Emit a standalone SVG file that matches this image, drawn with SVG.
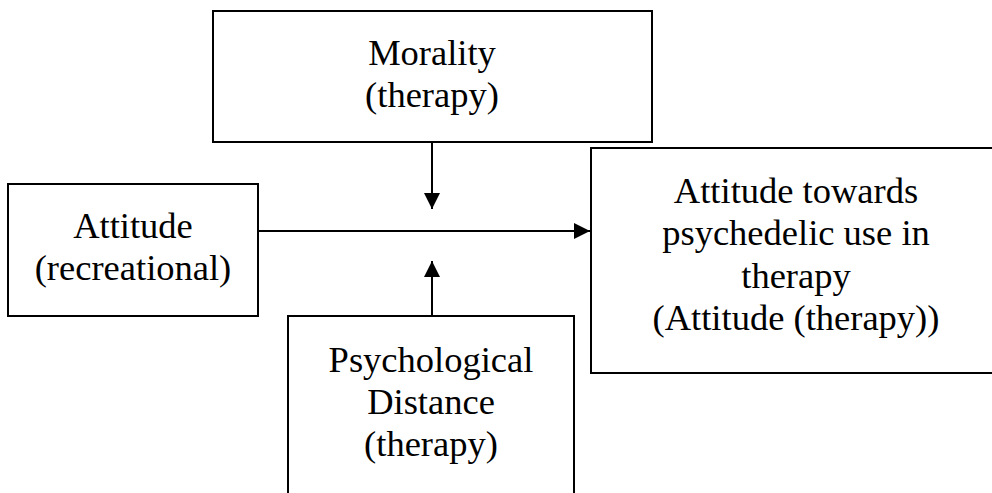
<svg xmlns="http://www.w3.org/2000/svg" width="992" height="493" viewBox="0 0 992 493">
<style>
.box{fill:#fff;stroke:#000;stroke-width:2}
.lbl{font-family:"Liberation Serif","Times New Roman",serif;font-size:36.5px;fill:#000;text-anchor:middle}
.con{stroke:#000;stroke-width:2;fill:none}
</style>
<defs>
<marker id="ah" markerUnits="userSpaceOnUse" markerWidth="16" markerHeight="16" viewBox="0 0 16 16" refX="16" refY="8" orient="auto">
<path d="M0,0 L16,8 L0,16 Z" fill="#000"/>
</marker>
</defs>
<rect width="992" height="493" fill="#fff"/>
<g id="morality">
<rect class="box" x="213" y="11" width="439" height="131"/>
<text class="lbl" x="432" y="65">Morality</text>
<text class="lbl" x="432" y="107">(therapy)</text>
</g>
<g id="attitude-recreational">
<rect class="box" x="8" y="184" width="250" height="132"/>
<text class="lbl" x="133" y="238">Attitude</text>
<text class="lbl" x="133" y="280">(recreational)</text>
</g>
<g id="attitude-therapy">
<rect class="box" x="591" y="148" width="412" height="225"/>
<text class="lbl" x="796" y="203">Attitude towards</text>
<text class="lbl" x="796" y="245">psychedelic use in</text>
<text class="lbl" x="796" y="288">therapy</text>
<text class="lbl" x="796" y="330">(Attitude (therapy))</text>
</g>
<g id="psych-distance">
<rect class="box" x="288" y="316" width="286" height="200"/>
<text class="lbl" x="431" y="372">Psychological</text>
<text class="lbl" x="431" y="414">Distance</text>
<text class="lbl" x="431" y="456">(therapy)</text>
</g>
<g id="connectors">
<line class="con" x1="258" y1="231" x2="590" y2="231" marker-end="url(#ah)"/>
<line class="con" x1="432" y1="142" x2="432" y2="209" marker-end="url(#ah)"/>
<line class="con" x1="432" y1="316" x2="432" y2="261" marker-end="url(#ah)"/>
</g>
</svg>
